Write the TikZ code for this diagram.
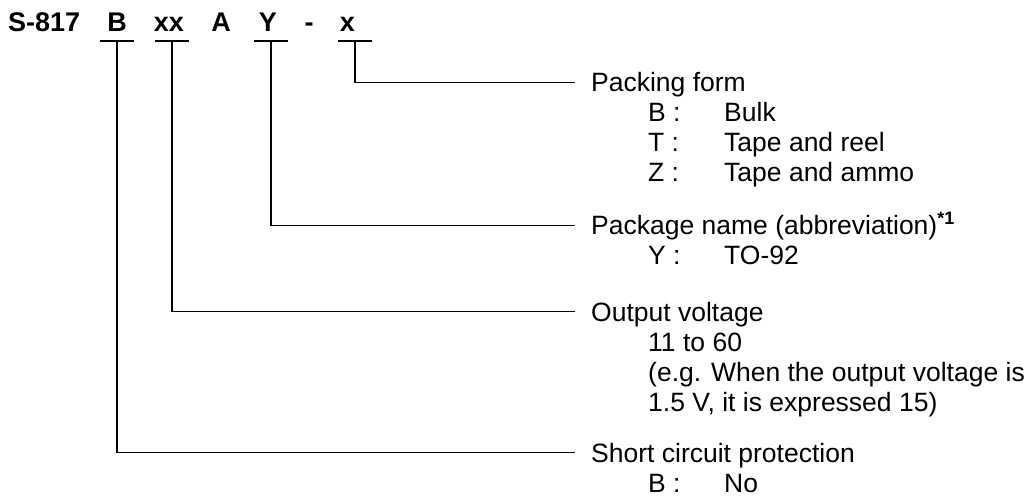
\documentclass[tikz,border=0pt]{standalone}
\usepackage{fontspec}
\setmainfont{Liberation Sans}

\begin{document}
\begin{tikzpicture}[x = 1pt, y = -1pt,
    code/.style = {inner sep = 0pt, anchor = base, font = \fontsize{27}{30}\selectfont\bfseries},
    head/.style = {inner xsep = 17pt, inner ysep = 0pt, text height = 19pt, text depth = 0pt, anchor = base west, font = \fontsize{26.5}{30}\selectfont},
    list/.style = {inner sep = 0pt, anchor = base west, font = \fontsize{26.5}{30}\selectfont},
    wire/.style = {line width = 1.8pt, line cap = rect}]

\useasboundingbox (0, 0) rectangle (1034, 497);

% part number
\node[code, anchor = base west] (part) at (8, 32) {S-817};
\node[code] (cB) at (117, 32) {B};
\node[code] (cxx) at (169, 32) {xx};
\node[code] (cA) at (221, 32) {A};
\node[code] (cY) at (268, 32) {Y};
\node[code] (cdash) at (309, 32) {-};
\node[code] (cx) at (347.5, 32) {x};

% ticks under the letters
\coordinate (tB) at (117, 41);
\coordinate (txx) at (172, 41);
\coordinate (tY) at (271, 41);
\coordinate (tx) at (355, 41);
\foreach \t in {tB, txx, tY, tx}
  \draw[wire, line cap = butt] ([xshift = -17pt]\t) -- ([xshift = 17pt]\t);

% labels
\node[head] (pack) at (574, 92) {Packing form};
\node[list] (packlist) at (648, 122) {\begin{tabular}[t]{@{}p{76pt}@{}l@{}}B : & Bulk\\ T : & Tape and reel\\ Z : & Tape and ammo\end{tabular}};

\node[head] (pkg) at (574, 235) {Package name (abbreviation)\raisebox{10pt}{\fontsize{18}{18}\selectfont\bfseries *1}};
\node[list] (pkglist) at (648, 265) {\begin{tabular}[t]{@{}p{76pt}@{}l@{}}Y : & TO-92\end{tabular}};

\node[head] (volt) at (574, 321) {Output voltage};
\node[list] (voltlist) at (648, 351) {\begin{tabular}[t]{@{}l@{}}11 to 60\\ (e.g. When the output voltage is\\ 1.5 V, it is expressed 15)\end{tabular}};

\node[head] (prot) at (574, 462) {Short circuit protection};
\node[list] (protlist) at (648, 492) {\begin{tabular}[t]{@{}p{76pt}@{}l@{}}B : & No\end{tabular}};

% connectors
\draw[wire] (tx) |- (pack.west);
\draw[wire] (tY) |- (pkg.west);
\draw[wire] (txx) |- (volt.west);
\draw[wire] (tB) |- (prot.west);

\end{tikzpicture}
\end{document}
